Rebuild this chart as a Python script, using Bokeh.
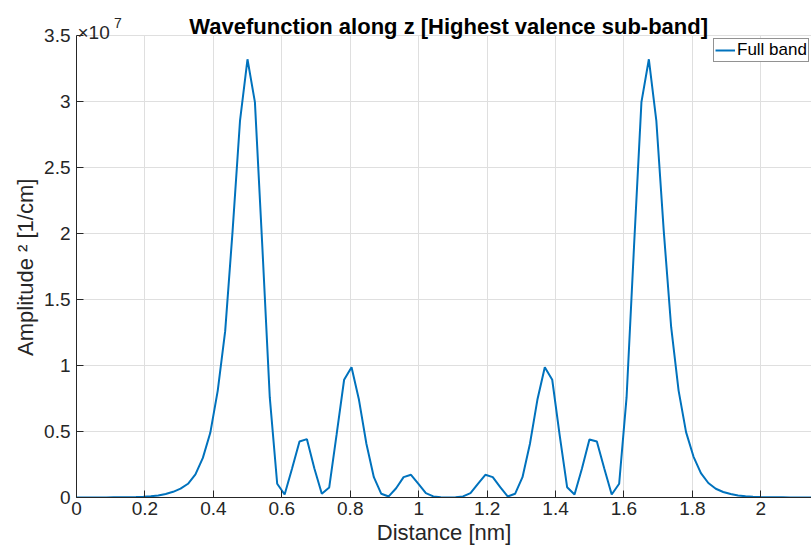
from bokeh.plotting import figure
from bokeh.models import FixedTicker, NumeralTickFormatter, Label
from bokeh.embed import file_html
from bokeh.resources import INLINE

# Distance along z [nm]
distance_nm = [
    0.0000, 0.0217, 0.0434, 0.0652, 0.0869, 0.1086, 0.1303, 0.1521, 0.1738, 0.1955,
    0.2172, 0.2390, 0.2607, 0.2824, 0.3041, 0.3259, 0.3476, 0.3693, 0.3910, 0.4128,
    0.4345, 0.4562, 0.4779, 0.4997, 0.5214, 0.5431, 0.5648, 0.5865, 0.6083, 0.6300,
    0.6517, 0.6734, 0.6952, 0.7169, 0.7386, 0.7603, 0.7821, 0.8038, 0.8255, 0.8472,
    0.8690, 0.8907, 0.9124, 0.9341, 0.9559, 0.9776, 0.9993, 1.0210, 1.0428, 1.0645,
    1.0862,
    1.1079, 1.1296, 1.1514, 1.1731, 1.1948, 1.2165, 1.2383, 1.2600, 1.2817, 1.3034,
    1.3252, 1.3469, 1.3686, 1.3903, 1.4121, 1.4338, 1.4555, 1.4772, 1.4990, 1.5207,
    1.5424, 1.5641, 1.5859, 1.6076, 1.6293, 1.6510, 1.6727, 1.6945, 1.7162, 1.7379,
    1.7596, 1.7814, 1.8031, 1.8248, 1.8465, 1.8683, 1.8900, 1.9117, 1.9334, 1.9552,
    1.9769, 1.9986, 2.0203, 2.0421, 2.0638, 2.0855, 2.1072, 2.1290, 2.1507, 2.1724,
]

# Amplitude^2 [1/cm], in units of 1e7
amplitude_1e7 = [
    0, 0, 0, 0, 0.0005, 0.001, 0.0015, 0.002, 0.003, 0.005,
    0.009, 0.015, 0.027, 0.043, 0.067, 0.104, 0.175, 0.30, 0.49, 0.81,
    1.26, 2.02, 2.856, 3.32, 2.995, 1.9, 0.76, 0.104, 0.023, 0.22,
    0.424, 0.442, 0.22, 0.028, 0.076, 0.48, 0.892, 0.987, 0.74, 0.407,
    0.154, 0.028, 0.008, 0.07, 0.154, 0.172, 0.104, 0.033, 0.008, 0.002,
    0.0,
    0.002, 0.008, 0.033, 0.104, 0.172, 0.154, 0.078, 0.008, 0.028, 0.154,
    0.407, 0.74, 0.987, 0.892, 0.47, 0.078, 0.023, 0.22, 0.44, 0.424,
    0.22, 0.023, 0.104, 0.76, 1.9, 2.995, 3.32, 2.856, 2.02, 1.29,
    0.81, 0.495, 0.31, 0.185, 0.11, 0.066, 0.042, 0.026, 0.015, 0.009,
    0.005, 0.003, 0.002, 0.0015, 0.001, 0.0005, 0, 0, 0, 0,
]

x_ticks = [0, 0.2, 0.4, 0.6, 0.8, 1.0, 1.2, 1.4, 1.6, 1.8, 2.0]
y_ticks = [0, 0.5, 1.0, 1.5, 2.0, 2.5, 3.0, 3.5]
y_max = 3.5
title_text = "Wavefunction along z [Highest valence sub-band]"

FONT = "Liberation Sans"
AX = "#262626"
GRID = "#dfdfdf"

# The frame reaches the top of the canvas so that the title and the exponent
# label (drawn as labels) are visible; axis and grid are bounded to y_max.
p = figure(width=811, height=550, x_range=(0, 2.148), y_range=(0, 3.7652),
           output_backend="svg", toolbar_location=None)
p.min_border_left = 76
p.min_border_right = 0
p.min_border_top = 0
p.min_border_bottom = 53
p.outline_line_color = None
p.background_fill_color = "white"
p.border_fill_color = "white"

for ax in (p.xaxis[0], p.yaxis[0]):
    ax.axis_line_color = AX
    ax.axis_line_width = 1
    ax.major_tick_line_color = AX
    ax.major_tick_in = 7
    ax.major_tick_out = 0
    ax.minor_tick_line_color = None
    ax.major_label_text_font = FONT
    ax.major_label_text_font_size = "19px"
    ax.major_label_text_color = AX
    ax.axis_label_text_font = FONT
    ax.axis_label_text_font_size = "22px"
    ax.axis_label_text_font_style = "normal"
    ax.axis_label_text_color = AX
    ax.formatter = NumeralTickFormatter(format="0.[0]")

p.xaxis[0].ticker = FixedTicker(ticks=x_ticks)
p.yaxis[0].ticker = FixedTicker(ticks=y_ticks)
p.yaxis[0].bounds = (0, y_max)
p.xaxis[0].axis_label = "Distance [nm]"
# trailing no-break spaces keep the label centred on the 0..y_max box
p.yaxis[0].axis_label = "Amplitude \u00b2 [1/cm]" + "\u00a0" * 6
p.xaxis[0].major_label_standoff = 4
p.yaxis[0].major_label_standoff = 6
p.xaxis[0].axis_label_standoff = 2
p.yaxis[0].axis_label_standoff = 3

p.ygrid.grid_line_color = GRID
p.ygrid.ticker = FixedTicker(ticks=y_ticks)
p.xgrid.ticker = FixedTicker(ticks=x_ticks)
p.xgrid.grid_line_color = GRID
try:
    p.xgrid[0].cross_bounds = (0, y_max)
except Exception:
    p.xgrid.grid_line_color = None
    p.segment(x0=x_ticks, y0=[0] * len(x_ticks), x1=x_ticks,
              y1=[y_max] * len(x_ticks), line_color=GRID, line_width=1,
              level="underlay")

p.line(distance_nm, amplitude_1e7, line_color="#0072BD", line_width=2,
       legend_label="Full band")

lg = p.legend[0]
lg.location = (637, 435)
lg.label_text_font = FONT
lg.label_text_font_size = "17px"
lg.label_text_color = "black"
lg.border_line_color = AX
lg.border_line_width = 1
lg.background_fill_color = "white"
lg.background_fill_alpha = 1
lg.padding = 1
lg.margin = 0
lg.spacing = 0
lg.glyph_width = 20
lg.glyph_height = 16
lg.label_height = 16
lg.label_standoff = 2

# title
p.add_layout(Label(x=1.0877, y=3.568, text=title_text, text_font=FONT,
                   text_font_size="22px", text_font_style="bold",
                   text_color="black", text_align="center",
                   text_baseline="alphabetic"))
# exponent of the y axis
p.add_layout(Label(x=0.003, y=3.5227, text="\u00d710", text_font=FONT,
                   text_font_size="19px", text_color=AX,
                   text_baseline="alphabetic"))
p.add_layout(Label(x=0.1093, y=3.5985, text="7", text_font=FONT,
                   text_font_size="14px", text_color=AX,
                   text_baseline="alphabetic"))

open("out.html", "w").write(file_html(p, INLINE))
